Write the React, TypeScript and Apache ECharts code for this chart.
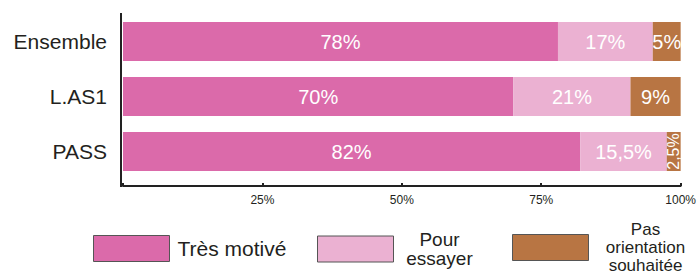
import React, { useEffect, useRef } from "react";
import * as echarts from "echarts";

const categories = ["Ensemble", "L.AS1", "PASS"];
const tresMotive = [78, 70, 82];
const pourEssayer = [17, 21, 15.5];
const pasOrientation = [5, 9, 2.5];
const xTicks = [0, 25, 50, 75, 100];

const seriesNames = ["Très motivé", "Pour essayer", "Pas orientation souhaitée"];
const colors = ["#DB6AAA", "#EBB1D2", "#B87543"];

const FONT = "'Liberation Sans', Arial, Helvetica, sans-serif";
const TEXT = "#231f20";

const fmt = (v: number) => String(v).replace(".", ",") + "%";

export default function App() {
  const ref = useRef<HTMLDivElement>(null);
  useEffect(() => {
    if (!ref.current) return;
    const chart = echarts.init(ref.current, undefined, { renderer: "svg" });
    const mkSeries = (name: string, data: number[], color: string) => ({
      name,
      type: "bar",
      stack: "total",
      barWidth: 39,
      itemStyle: { color },
      label: {
        show: true,
        position: "inside",
        color: "#fff",
        fontSize: 20,
        fontFamily: FONT,
        formatter: (p: any) => fmt(p.value),
      },
      data: data.map((v) =>
        v < 4 ? { value: v, label: { rotate: 90, fontSize: 16 } } : v
      ),
    });
    const legendBase = {
      orient: "horizontal",
      padding: 0,
      itemWidth: 76,
      itemHeight: 26,
      icon: "rect",
      selectedMode: false,
      itemStyle: { borderColor: "#555", borderWidth: 1 },
      textStyle: { fontSize: 21, color: TEXT, fontFamily: FONT },
    };
    const richLine = (width: number, size: number, lh: number) => ({
      a: { width, align: "center", lineHeight: lh, fontSize: size, color: TEXT, fontFamily: FONT },
    });
    chart.setOption({
      animation: false,
      textStyle: { fontFamily: FONT },
      grid: { left: 123, right: 16, top: 14, height: 165, containLabel: false },
      xAxis: {
        type: "value",
        min: xTicks[0],
        max: xTicks[xTicks.length - 1],
        interval: 25,
        offset: 7,
        splitLine: { show: false },
        axisLine: { show: true, lineStyle: { color: "#222", width: 2 } },
        axisTick: { show: true, inside: true, length: 3, lineStyle: { color: "#222", width: 2 } },
        axisLabel: {
          fontSize: 12,
          color: TEXT,
          margin: 8,
          fontFamily: FONT,
          formatter: (v: number) => (v === 0 ? "" : v + "%"),
        },
      },
      yAxis: {
        type: "category",
        inverse: true,
        data: categories,
        axisLine: { show: false },
        axisTick: { show: false },
        axisLabel: { fontSize: 21, color: TEXT, margin: 16, fontFamily: FONT },
      },
      legend: [
        {
          ...legendBase,
          left: 93,
          top: 235,
          data: [seriesNames[0]],
          textStyle: { ...legendBase.textStyle, padding: [0, 0, 0, 3] },
        },
        {
          ...legendBase,
          left: 317,
          top: 230,
          data: [seriesNames[1]],
          formatter: () => "{a|Pour}\n{a|essayer}",
          textStyle: { ...legendBase.textStyle, rich: richLine(82, 19, 19) },
        },
        {
          ...legendBase,
          left: 512,
          top: 221,
          data: [seriesNames[2]],
          formatter: () => "{a|Pas}\n{a|orientation}\n{a|souhaitée}",
          textStyle: { ...legendBase.textStyle, rich: richLine(104, 17, 18) },
        },
      ],
      graphic: [
        {
          type: "line",
          shape: { x1: 121, y1: 13, x2: 121, y2: 187 },
          style: { stroke: "#222", lineWidth: 2 },
          silent: true,
        },
      ],
      series: [
        mkSeries(seriesNames[0], tresMotive, colors[0]),
        mkSeries(seriesNames[1], pourEssayer, colors[1]),
        mkSeries(seriesNames[2], pasOrientation, colors[2]),
      ],
    });
    return () => chart.dispose();
  }, []);
  return <div ref={ref} style={{ width: 699, height: 276, position: "absolute", left: 0, top: 0 }} />;
}
